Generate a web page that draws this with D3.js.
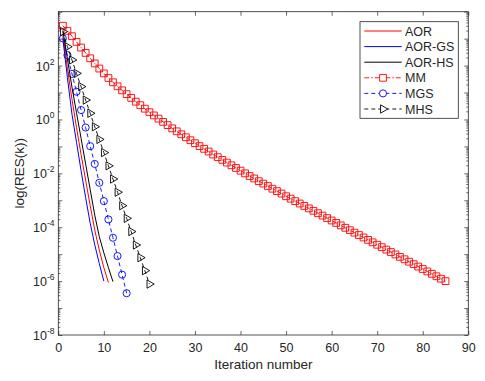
<!DOCTYPE html>
<html><head><meta charset="utf-8">
<script src="https://cdn.jsdelivr.net/npm/d3@7/dist/d3.min.js"></script>
<style>
body{margin:0;background:#fff}
text{font-family:"Liberation Sans",Arial,Helvetica,sans-serif;fill:#262626}
</style>
</head><body>
<svg id="chart" width="485" height="381"></svg>
<script>
// ---- data: log10(RES(k)) for iterations k = 1, 2, ... ----
const seriesNames = ["AOR", "AOR-GS", "AOR-HS", "MM", "MGS", "MHS"];
const aorLog   = [3.1, 1.9, 0.75, -0.3, -1.3, -2.25, -3.2, -4.1, -4.85, -5.5, -6.05];
const aorGSLog = [3.0, 1.55, 0.2, -0.85, -1.9, -2.9, -3.85, -4.65, -5.35, -6.0];
const aorHSLog = [3.3, 2.25, 1.2, 0.25, -0.7, -1.65, -2.6, -3.55, -4.35, -4.95, -5.5, -6.02];
const mgsLog   = [3.01, 2.39, 1.69, 1.03, 0.35, -0.30, -0.99, -1.65, -2.35, -3.03, -3.71, -4.39, -5.07, -5.76, -6.45];
const mhsLog   = [3.26, 2.70, 2.21, 1.71, 1.22, 0.72, 0.23, -0.27, -0.74, -1.23, -1.72, -2.21, -2.70, -3.20,
                  -3.67, -4.16, -4.66, -5.13, -5.61, -6.11];
const mmLog    = [3.48, 3.29, 3.09, 2.88, 2.67, 2.47, 2.27, 2.08, 1.89, 1.71, 1.54, 1.38, 1.23, 1.08, 0.94,
                  0.80, 0.66, 0.53, 0.40, 0.27, 0.15, 0.03, -0.09, -0.21, -0.33, -0.44, -0.55, -0.66, -0.77, -0.88,
                  -0.99, -1.09, -1.19, -1.30, -1.40, -1.50, -1.60, -1.70, -1.80, -1.90, -2.00, -2.10, -2.19, -2.29, -2.38,
                  -2.47, -2.57, -2.66, -2.75, -2.85, -2.94, -3.03, -3.12, -3.21, -3.30, -3.39, -3.48, -3.57, -3.66, -3.75,
                  -3.84, -3.93, -4.02, -4.11, -4.20, -4.29, -4.38, -4.47, -4.56, -4.65, -4.74, -4.83, -4.92, -5.01, -5.10,
                  -5.19, -5.28, -5.37, -5.46, -5.55, -5.64, -5.73, -5.82, -5.91, -6.00];
const xTicks = [0, 10, 20, 30, 40, 50, 60, 70, 80, 90];
const yLabelExps = [-8, -6, -4, -2, 0, 2];
const yMajorExps = [-8, -7, -6, -5, -4, -3, -2, -1, 0, 1, 2, 3, 4];
const xTitle = "Iteration number";
const yTitle = "log(RES(k))";

// ---- layout ----
const L = 58.3, R = 468.3, T = 11.7, B = 335;
const svg = d3.select("#chart");
const x = d3.scaleLinear().domain([0, 90]).range([L, R]);
const y = d3.scaleLog().domain([1e-8, 1e4]).range([B, T]);
const axisColor = "#262626";

function toPts(arr) { return arr.map((v, i) => ({k: i + 1, v: Math.pow(10, v)})); }

// plot area background
svg.append("rect").attr("x", L).attr("y", T).attr("width", R - L).attr("height", B - T).attr("fill", "#fff");

// minor tick values
const minorVals = [];
for (let e = -8; e < 4; e++) for (let m = 2; m <= 9; m++) minorVals.push(m * Math.pow(10, e));

function styleAxis(g) {
  g.select(".domain").remove();
  g.selectAll("line").attr("stroke", axisColor).attr("stroke-width", 0.7);
}

// x axes (bottom with labels, top ticks only)
svg.append("g").attr("transform", `translate(0,${B})`)
  .call(d3.axisBottom(x).tickValues(xTicks).tickSize(-4).tickSizeOuter(0).tickPadding(8).tickFormat(d3.format("d")))
  .call(styleAxis)
  .call(g => g.selectAll("text").attr("font-size", 12.5).attr("fill", axisColor)
      .style("font-family", '"Liberation Sans",Arial,sans-serif'));
svg.append("g").attr("transform", `translate(0,${T})`)
  .call(d3.axisTop(x).tickValues(xTicks).tickSize(-4).tickSizeOuter(0).tickFormat(""))
  .call(styleAxis);

// y axes
const yMajor = yMajorExps.map(e => Math.pow(10, e));
svg.append("g").attr("transform", `translate(${L},0)`)
  .call(d3.axisLeft(y).tickValues(yMajor).tickSize(-4).tickSizeOuter(0).tickFormat(""))
  .call(styleAxis);
svg.append("g").attr("transform", `translate(${L},0)`)
  .call(d3.axisLeft(y).tickValues(minorVals).tickSize(-2).tickSizeOuter(0).tickFormat(""))
  .call(styleAxis);
svg.append("g").attr("transform", `translate(${R},0)`)
  .call(d3.axisRight(y).tickValues(yMajor).tickSize(-4).tickSizeOuter(0).tickFormat(""))
  .call(styleAxis);
svg.append("g").attr("transform", `translate(${R},0)`)
  .call(d3.axisRight(y).tickValues(minorVals).tickSize(-2).tickSizeOuter(0).tickFormat(""))
  .call(styleAxis);

// y tick labels with superscripts
yLabelExps.forEach(e => {
  const t = svg.append("text").attr("x", 54.5).attr("y", y(Math.pow(10, e)) + 5)
    .attr("text-anchor", "end").attr("font-size", 12.5);
  t.append("tspan").text("10");
  t.append("tspan").attr("dy", -6).attr("font-size", 8.5).text(String(e).replace("-", "-"));
});

// box
svg.append("rect").attr("x", L).attr("y", T).attr("width", R - L).attr("height", B - T)
  .attr("fill", "none").attr("stroke", axisColor).attr("stroke-width", 0.8);

// axis titles
svg.append("text").attr("x", (L + R) / 2).attr("y", 369).attr("text-anchor", "middle")
  .attr("font-size", 13.5).text(xTitle);
svg.append("text").attr("transform", `translate(23.5,${(T + B) / 2}) rotate(-90)`)
  .attr("text-anchor", "middle").attr("font-size", 13.5).text(yTitle);

// ---- series ----
const line = d3.line().x(d => x(d.k)).y(d => y(d.v));
const plot = svg.append("g");

const solid = [
  {name: "AOR", data: aorLog, color: "#ff0000"},
  {name: "AOR-GS", data: aorGSLog, color: "#0000ff"},
  {name: "AOR-HS", data: aorHSLog, color: "#000000"}
];
const marked = [
  {name: "MM", data: mmLog, color: "#ff0000", dash: "5,2,1.5,2", sym: "square"},
  {name: "MGS", data: mgsLog, color: "#0000ff", dash: "4,3", sym: "circle"},
  {name: "MHS", data: mhsLog, color: "#000000", dash: "4,3", sym: "tri"}
];

function symPath(kind) {
  if (kind === "square") return d3.symbol(d3.symbolSquare, 46)();
  if (kind === "circle") return d3.symbol(d3.symbolCircle, 40)();
  return d3.symbol(d3.symbolTriangle, 30)();
}
function symTransform(kind, px, py) {
  return kind === "tri" ? `translate(${px},${py}) rotate(90)` : `translate(${px},${py})`;
}

marked.forEach(s => {
  const pts = toPts(s.data);
  plot.append("path").datum(pts).attr("d", line).attr("fill", "none")
    .attr("stroke", s.color).attr("stroke-width", 0.9).attr("stroke-dasharray", s.dash);
  plot.selectAll(null).data(pts).enter().append("path")
    .attr("d", symPath(s.sym)).attr("transform", d => symTransform(s.sym, x(d.k), y(d.v)))
    .attr("fill", "none").attr("stroke", s.color).attr("stroke-width", 0.9);
});
solid.forEach(s => {
  plot.append("path").datum(toPts(s.data)).attr("d", line).attr("fill", "none")
    .attr("stroke", s.color).attr("stroke-width", 1);
});

// ---- legend ----
const lg = svg.append("g");
lg.append("rect").attr("x", 360).attr("y", 21.7).attr("width", 98.3).attr("height", 96.6)
  .attr("fill", "#fff").attr("stroke", axisColor).attr("stroke-width", 0.8);
const legendItems = solid.map(s => ({...s, dash: null, sym: null})).concat(marked);
legendItems.forEach((s, i) => {
  const yy = 31 + i * 15.6;
  lg.append("line").attr("x1", 364.3).attr("x2", 401.7).attr("y1", yy).attr("y2", yy)
    .attr("stroke", s.color).attr("stroke-width", s.sym ? 0.9 : 1)
    .attr("stroke-dasharray", s.dash);
  if (s.sym) {
    lg.append("path").attr("d", symPath(s.sym)).attr("transform", symTransform(s.sym, 383, yy))
      .attr("fill", "#fff").attr("stroke", s.color).attr("stroke-width", 0.9);
  }
  lg.append("text").attr("x", 405).attr("y", yy + 4.5).attr("font-size", 12.5).text(s.name);
});
</script>
</body></html>
